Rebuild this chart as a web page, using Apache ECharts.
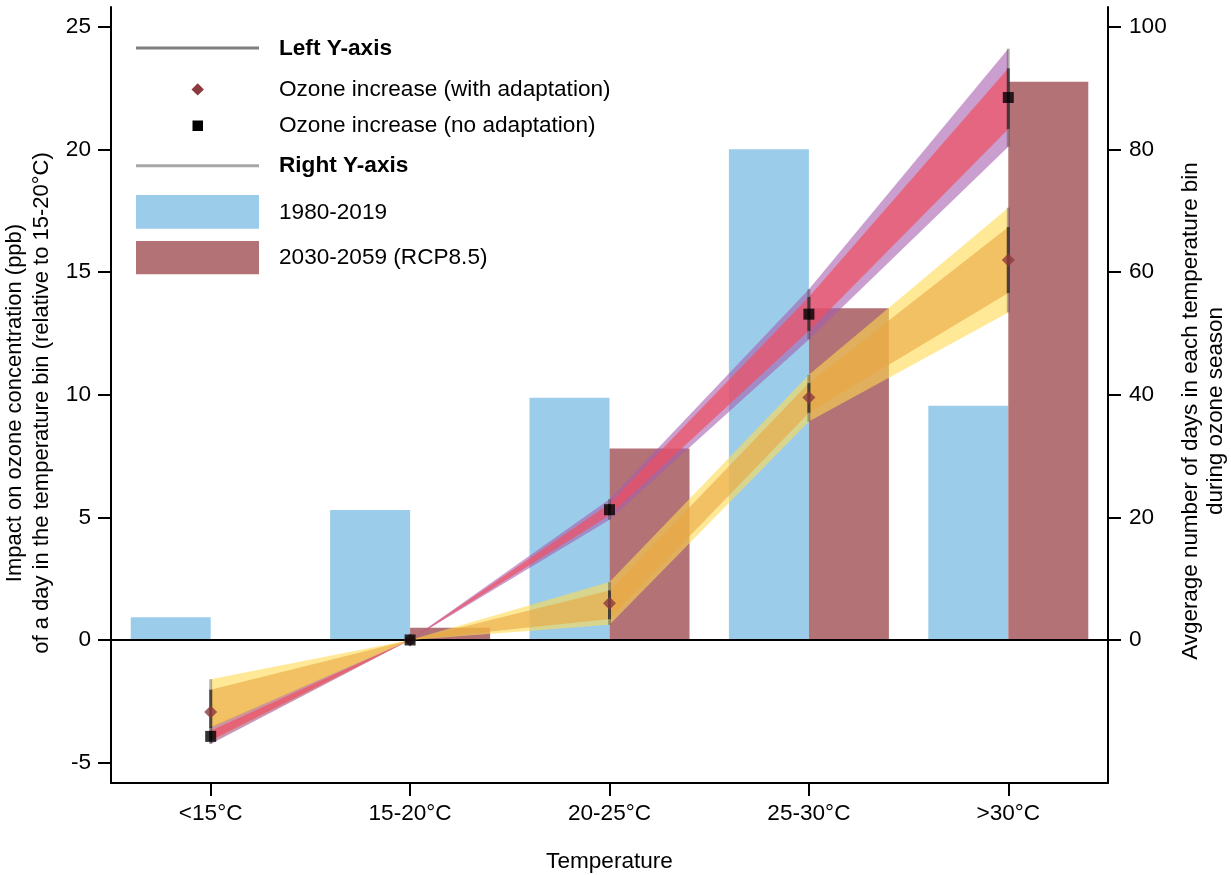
<!DOCTYPE html>
<html>
<head>
<meta charset="utf-8">
<script src="https://cdn.jsdelivr.net/npm/echarts@6/dist/echarts.min.js"></script>
<style>
html,body{margin:0;padding:0;background:#fff;}
#chart{width:1231px;height:875px;}
</style>
</head>
<body>
<div id="chart"></div>
<script>
// ---- data ----
const categories = ['<15°C', '15-20°C', '20-25°C', '25-30°C', '>30°C'];
// Right Y-axis: average number of days per temperature bin
const days1980 = [3.7, 21.2, 39.5, 80.0, 38.2];
const days2030 = [0, 2.0, 31.2, 54.1, 91.0];
// Left Y-axis: ozone increase (no adaptation)
const noAdapt = [-3.93, 0, 5.31, 13.28, 22.11];
const noAdaptInnerLo = [-4.1, 0, 5.08, 12.6, 20.83];
const noAdaptInnerHi = [-3.7, 0, 5.55, 13.98, 23.3];
const noAdaptOuterLo = [-4.24, 0, 4.9, 12.25, 20.1];
const noAdaptOuterHi = [-3.55, 0, 5.74, 14.3, 24.1];
// Left Y-axis: ozone increase (with adaptation)
const withAdapt = [-2.94, 0, 1.5, 9.88, 15.49];
const withInnerLo = [-3.59, 0, 0.85, 9.26, 14.14];
const withInnerHi = [-2.03, 0, 2.02, 10.47, 16.83];
const withOuterLo = [-4.2, 0, 0.62, 8.9, 13.35];
const withOuterHi = [-1.6, 0, 2.36, 10.81, 17.62];
// tick labels
const leftTicks = [-5, 0, 5, 10, 15, 20, 25];
const rightTicks = [0, 20, 40, 60, 80, 100];
const leftMin = -5.83, leftMax = 25.8;

const FONT = "'Liberation Sans', Arial, Helvetica, sans-serif";
const FS = 22.6;

function bandData(lo, hi) {
  const out = [];
  for (let i = 0; i < lo.length - 1; i++) out.push([i, lo[i], hi[i], lo[i + 1], hi[i + 1]]);
  return out;
}
function bandSeries(name, lo, hi, color, z, extra) {
  return Object.assign({
    name: name,
    type: 'custom',
    yAxisIndex: 0,
    silent: true,
    z: z,
    encode: { x: 0, y: [1, 2, 3, 4] },
    data: bandData(lo, hi),
    renderItem: function (params, api) {
      const i = api.value(0);
      const p1 = api.coord([i, api.value(1)]);
      const p2 = api.coord([i + 1, api.value(3)]);
      const p3 = api.coord([i + 1, api.value(4)]);
      const p4 = api.coord([i, api.value(2)]);
      return { type: 'polygon', shape: { points: [p1, p2, p3, p4] }, style: { fill: color, stroke: null } };
    }
  }, extra || {});
}
function errData(oLo, oHi, iLo, iHi) {
  return oLo.map((v, i) => [i, oLo[i], oHi[i], iLo[i], iHi[i]]);
}
function errSeries(name, oLo, oHi, iLo, iHi) {
  return {
    name: name,
    type: 'custom',
    yAxisIndex: 0,
    silent: true,
    z: 6,
    encode: { x: 0, y: [1, 2, 3, 4] },
    data: errData(oLo, oHi, iLo, iHi),
    renderItem: function (params, api) {
      const i = api.value(0);
      const a = api.coord([i, api.value(1)]);
      const b = api.coord([i, api.value(2)]);
      const c = api.coord([i, api.value(3)]);
      const d = api.coord([i, api.value(4)]);
      return {
        type: 'group',
        children: [
          { type: 'line', shape: { x1: a[0], y1: a[1], x2: b[0], y2: b[1] }, style: { stroke: 'rgba(50,50,50,0.35)', lineWidth: 3 } },
          { type: 'line', shape: { x1: c[0], y1: c[1], x2: d[0], y2: d[1] }, style: { stroke: 'rgba(40,40,40,0.75)', lineWidth: 3 } }
        ]
      };
    }
  };
}

const chart = echarts.init(document.getElementById('chart'), null, { renderer: 'canvas' });

const legendGraphics = [
  { type: 'line', shape: { x1: 136, y1: 48, x2: 259, y2: 48 }, style: { stroke: '#7F7F7F', lineWidth: 3 } },
  { type: 'text', x: 279, y: 49, style: { text: 'Left Y-axis', font: 'bold ' + FS + 'px ' + FONT, fill: '#000', verticalAlign: 'middle' } },
  { type: 'polygon', shape: { points: [[197.7, 83.2], [203.9, 89.4], [197.7, 95.6], [191.5, 89.4]] }, style: { fill: '#8C3A3F' } },
  { type: 'text', x: 279, y: 90, style: { text: 'Ozone increase (with adaptation)', font: FS + 'px ' + FONT, fill: '#000', verticalAlign: 'middle' } },
  { type: 'rect', shape: { x: 192.5, y: 120.5, width: 10.5, height: 10.5 }, style: { fill: '#000' } },
  { type: 'text', x: 279, y: 126, style: { text: 'Ozone increase (no adaptation)', font: FS + 'px ' + FONT, fill: '#000', verticalAlign: 'middle' } },
  { type: 'line', shape: { x1: 136, y1: 165.7, x2: 259, y2: 165.7 }, style: { stroke: '#A6A6A6', lineWidth: 3 } },
  { type: 'text', x: 279, y: 166, style: { text: 'Right Y-axis', font: 'bold ' + FS + 'px ' + FONT, fill: '#000', verticalAlign: 'middle' } },
  { type: 'rect', shape: { x: 136, y: 195, width: 123, height: 33.7 }, style: { fill: '#9BCDEB' } },
  { type: 'text', x: 279, y: 212.5, style: { text: '1980-2019', font: FS + 'px ' + FONT, fill: '#000', verticalAlign: 'middle' } },
  { type: 'rect', shape: { x: 136, y: 241, width: 123, height: 33.3 }, style: { fill: '#B27276' } },
  { type: 'text', x: 279, y: 258, style: { text: '2030-2059 (RCP8.5)', font: FS + 'px ' + FONT, fill: '#000', verticalAlign: 'middle' } }
];

const option = {
  animation: false,
  backgroundColor: '#fff',
  textStyle: { fontFamily: FONT },
  grid: { left: 111, right: 123, top: 7, bottom: 92, containLabel: false, outerBoundsMode: 'none' },
  xAxis: {
    type: 'category',
    data: categories,
    boundaryGap: true,
    name: 'Temperature',
    nameLocation: 'middle',
    nameGap: 67,
    nameMoveOverlap: false,
    nameTextStyle: { fontSize: FS, color: '#000', fontFamily: FONT },
    axisLine: { show: true, onZero: false, lineStyle: { color: '#000', width: 2 } },
    axisTick: { show: true, alignWithLabel: true, length: 13, lineStyle: { color: '#000', width: 2 } },
    axisLabel: { fontSize: FS, color: '#000', margin: 19, fontFamily: FONT },
    splitLine: { show: false }
  },
  yAxis: [
    {
      type: 'value',
      position: 'left',
      min: leftMin,
      max: leftMax,
      name: 'Impact on ozone concentration (ppb)\nof a day in the temperature bin (relative to 15-20°C)',
      nameLocation: 'middle',
      nameGap: 56,
      nameMoveOverlap: false,
      nameTextStyle: { fontSize: 22, color: '#000', lineHeight: 27, fontFamily: FONT, padding: [0, 16, 0, 0] },
      axisLine: { show: true, onZero: false, lineStyle: { color: '#000', width: 2 } },
      axisTick: { show: true, length: 13, lineStyle: { color: '#000', width: 2 }, customValues: leftTicks },
      axisLabel: { fontSize: FS, color: '#000', margin: 20, fontFamily: FONT, customValues: leftTicks },
      splitLine: { show: false }
    },
    {
      type: 'value',
      position: 'right',
      min: leftMin * 4,
      max: leftMax * 4,
      name: 'Avgerage number of days in each temperature bin\nduring ozone season',
      nameLocation: 'middle',
      nameGap: 70,
      nameMoveOverlap: false,
      nameTextStyle: { fontSize: 22.4, color: '#000', lineHeight: 25, fontFamily: FONT, padding: [0, 32, 0, 0] },
      axisLine: { show: true, onZero: false, lineStyle: { color: '#000', width: 2 } },
      axisTick: { show: true, length: 13, lineStyle: { color: '#000', width: 2 }, customValues: rightTicks },
      axisLabel: { fontSize: FS, color: '#000', margin: 21, fontFamily: FONT, customValues: rightTicks },
      splitLine: { show: false }
    }
  ],
  graphic: legendGraphics,
  series: [
    {
      name: '1980-2019', type: 'bar', yAxisIndex: 1, data: days1980, z: 1,
      barWidth: 80, barGap: '0%', itemStyle: { color: '#9BCDEB' }, silent: true
    },
    {
      name: '2030-2059 (RCP8.5)', type: 'bar', yAxisIndex: 1, data: days2030, z: 1,
      barWidth: 80, barGap: '0%', itemStyle: { color: '#B27276' }, silent: true,
      markLine: {
        silent: true, symbol: 'none', label: { show: false }, z: 1.5,
        lineStyle: { color: '#000', width: 2, type: 'solid' },
        data: [{ yAxis: 0 }]
      }
    },
    bandSeries('With adaptation (outer)', withOuterLo, withOuterHi, 'rgba(255,218,80,0.6)', 2),
    bandSeries('No adaptation (outer)', noAdaptOuterLo, noAdaptOuterHi, 'rgba(167,93,173,0.6)', 3),
    bandSeries('No adaptation (inner)', noAdaptInnerLo, noAdaptInnerHi, 'rgba(241,78,95,0.7)', 4),
    bandSeries('With adaptation (inner)', withInnerLo, withInnerHi, 'rgba(233,166,65,0.6)', 5),
    errSeries('No adaptation CI', noAdaptOuterLo, noAdaptOuterHi, noAdaptInnerLo, noAdaptInnerHi),
    errSeries('With adaptation CI', withOuterLo, withOuterHi, withInnerLo, withInnerHi),
    {
      name: 'Ozone increase (with adaptation)', type: 'scatter', yAxisIndex: 0, data: withAdapt, z: 7,
      symbol: 'diamond', symbolSize: 13, itemStyle: { color: '#8C3A3F' }, silent: true
    },
    {
      name: 'Ozone increase (no adaptation)', type: 'scatter', yAxisIndex: 0, data: noAdapt, z: 8,
      symbol: 'rect', symbolSize: 11, itemStyle: { color: '#000' }, silent: true
    }
  ]
};
chart.setOption(option);
</script>
</body>
</html>
